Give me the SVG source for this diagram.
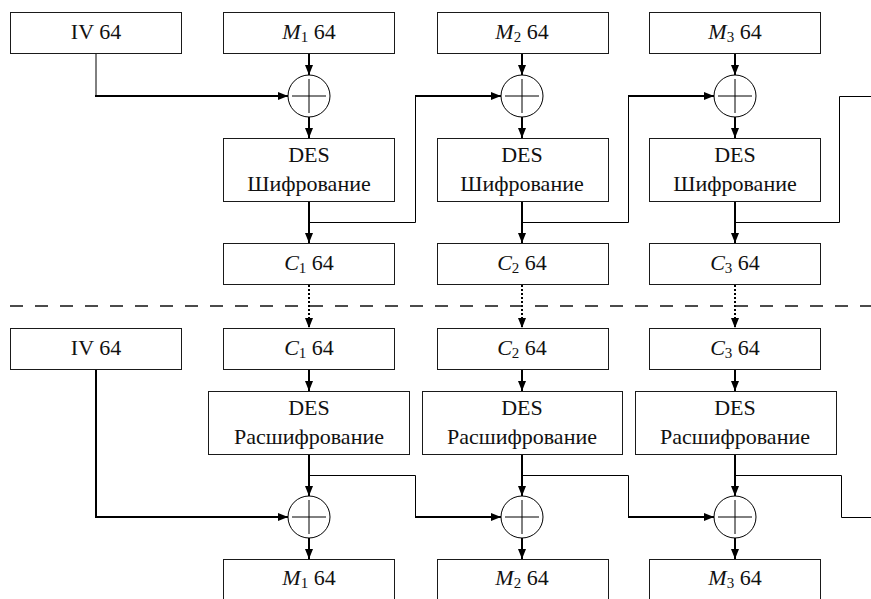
<svg xmlns="http://www.w3.org/2000/svg" width="871" height="599" viewBox="0 0 871 599">
  <style>
    .box { fill: #ffffff; stroke: #1a1a1a; stroke-width: 1; }
    .lbl { font-family: "Liberation Serif", "Times New Roman", serif; font-size: 22px; fill: #111; text-anchor: middle; }
    .it { font-style: italic; }
    .sub { font-size: 15px; }
    .thick { fill: none; stroke: #000; stroke-width: 2; }
    .thin { fill: none; stroke: #000; stroke-width: 1; }
    .dot { fill: none; stroke: #000; stroke-width: 2; stroke-dasharray: 2 2; }
    .dash { fill: none; stroke: #111; stroke-width: 1.3; stroke-dasharray: 13 12; }
    .xor circle { fill: #fff; stroke: #000; stroke-width: 1; }
    .xor path { stroke: #000; stroke-width: 1; }
  </style>
  <defs>
    <marker id="ah" markerUnits="userSpaceOnUse" markerWidth="10" markerHeight="8" refX="10" refY="4" orient="auto">
      <path d="M0,0 L10,4 L0,8 z" fill="#000"/>
    </marker>
    <g id="xorSym" class="xor">
      <circle cx="0" cy="0" r="21"/>
      <path d="M-17,0 H17 M0,-17 V17"/>
    </g>
  </defs>

  <!-- connectors -->
  <g id="connectors">
    <!-- encryption chain -->
    <path class="thin" d="M96,53 V96"/>
    <path class="thick" d="M95,96 H288" marker-end="url(#ah)"/>
    <path class="thick" d="M309,53 V75" marker-end="url(#ah)"/>
    <path class="thick" d="M522,53 V75" marker-end="url(#ah)"/>
    <path class="thick" d="M735,53 V75" marker-end="url(#ah)"/>
    <path class="thick" d="M309,117 V138" marker-end="url(#ah)"/>
    <path class="thick" d="M522,117 V138" marker-end="url(#ah)"/>
    <path class="thick" d="M735,117 V138" marker-end="url(#ah)"/>
    <path class="thick" d="M309,201 V243" marker-end="url(#ah)"/>
    <path class="thick" d="M522,201 V243" marker-end="url(#ah)"/>
    <path class="thick" d="M735,201 V243" marker-end="url(#ah)"/>
    <path class="thin" d="M309,222.5 H415.5 V96"/>
    <path class="thick" d="M415,96 H501" marker-end="url(#ah)"/>
    <path class="thin" d="M522,222.5 H628.5 V96"/>
    <path class="thick" d="M628,96 H714" marker-end="url(#ah)"/>
    <path class="thin" d="M735,222.5 H839.5 V96.5 H871"/>

    <!-- transfer of ciphertext -->
    <path class="dot" d="M309,285 V328" marker-end="url(#ah)"/>
    <path class="dot" d="M522,285 V328" marker-end="url(#ah)"/>
    <path class="dot" d="M735,285 V328" marker-end="url(#ah)"/>
    <path class="dash" d="M10,306 H871"/>

    <!-- decryption chain -->
    <path class="thick" d="M96,369 V517 H288" marker-end="url(#ah)"/>
    <path class="thick" d="M309,369 V391" marker-end="url(#ah)"/>
    <path class="thick" d="M522,369 V391" marker-end="url(#ah)"/>
    <path class="thick" d="M735,369 V391" marker-end="url(#ah)"/>
    <path class="thick" d="M309,454 V496" marker-end="url(#ah)"/>
    <path class="thick" d="M522,454 V496" marker-end="url(#ah)"/>
    <path class="thick" d="M735,454 V496" marker-end="url(#ah)"/>
    <path class="thick" d="M309,538 V559" marker-end="url(#ah)"/>
    <path class="thick" d="M522,538 V559" marker-end="url(#ah)"/>
    <path class="thick" d="M735,538 V559" marker-end="url(#ah)"/>
    <path class="thin" d="M309,475.5 H415.5 V517"/>
    <path class="thick" d="M415,517 H501" marker-end="url(#ah)"/>
    <path class="thin" d="M522,475.5 H628.5 V517"/>
    <path class="thick" d="M628,517 H714" marker-end="url(#ah)"/>
    <path class="thin" d="M735,475.5 H841.5 V517.5 H871"/>
  </g>

  <!-- encryption nodes -->
  <g id="enc-iv"><rect class="box" x="10.5" y="12.5" width="171" height="41"/><text class="lbl" x="96" y="39">IV 64</text></g>
  <g id="enc-m1"><rect class="box" x="223.5" y="12.5" width="171" height="41"/><text class="lbl" x="309" y="39"><tspan class="it">M</tspan><tspan class="sub" dy="3">1</tspan><tspan dy="-3"> 64</tspan></text></g>
  <g id="enc-m2"><rect class="box" x="437.5" y="12.5" width="171" height="41"/><text class="lbl" x="522" y="39"><tspan class="it">M</tspan><tspan class="sub" dy="3">2</tspan><tspan dy="-3"> 64</tspan></text></g>
  <g id="enc-m3"><rect class="box" x="649.5" y="12.5" width="171" height="41"/><text class="lbl" x="735" y="39"><tspan class="it">M</tspan><tspan class="sub" dy="3">3</tspan><tspan dy="-3"> 64</tspan></text></g>

  <g id="enc-xor1"><use href="#xorSym" x="309" y="96"/></g>
  <g id="enc-xor2"><use href="#xorSym" x="522" y="96"/></g>
  <g id="enc-xor3"><use href="#xorSym" x="735" y="96"/></g>

  <g id="enc-des1"><rect class="box" x="223.5" y="138.5" width="171" height="63"/><text class="lbl" x="309" y="162">DES</text><text class="lbl" x="309" y="191">Шифрование</text></g>
  <g id="enc-des2"><rect class="box" x="437.5" y="138.5" width="171" height="63"/><text class="lbl" x="522" y="162">DES</text><text class="lbl" x="522" y="191">Шифрование</text></g>
  <g id="enc-des3"><rect class="box" x="649.5" y="138.5" width="171" height="63"/><text class="lbl" x="735" y="162">DES</text><text class="lbl" x="735" y="191">Шифрование</text></g>

  <g id="enc-c1"><rect class="box" x="223.5" y="243.5" width="171" height="41"/><text class="lbl" x="309" y="270"><tspan class="it">C</tspan><tspan class="sub" dy="3">1</tspan><tspan dy="-3"> 64</tspan></text></g>
  <g id="enc-c2"><rect class="box" x="437.5" y="243.5" width="171" height="41"/><text class="lbl" x="522" y="270"><tspan class="it">C</tspan><tspan class="sub" dy="3">2</tspan><tspan dy="-3"> 64</tspan></text></g>
  <g id="enc-c3"><rect class="box" x="649.5" y="243.5" width="171" height="41"/><text class="lbl" x="735" y="270"><tspan class="it">C</tspan><tspan class="sub" dy="3">3</tspan><tspan dy="-3"> 64</tspan></text></g>

  <!-- decryption nodes -->
  <g id="dec-iv"><rect class="box" x="10.5" y="328.5" width="171" height="41"/><text class="lbl" x="96" y="355">IV 64</text></g>
  <g id="dec-c1"><rect class="box" x="223.5" y="328.5" width="171" height="41"/><text class="lbl" x="309" y="355"><tspan class="it">C</tspan><tspan class="sub" dy="3">1</tspan><tspan dy="-3"> 64</tspan></text></g>
  <g id="dec-c2"><rect class="box" x="437.5" y="328.5" width="171" height="41"/><text class="lbl" x="522" y="355"><tspan class="it">C</tspan><tspan class="sub" dy="3">2</tspan><tspan dy="-3"> 64</tspan></text></g>
  <g id="dec-c3"><rect class="box" x="649.5" y="328.5" width="171" height="41"/><text class="lbl" x="735" y="355"><tspan class="it">C</tspan><tspan class="sub" dy="3">3</tspan><tspan dy="-3"> 64</tspan></text></g>

  <g id="dec-des1"><rect class="box" x="208.5" y="391.5" width="201" height="63"/><text class="lbl" x="309" y="415">DES</text><text class="lbl" x="309" y="444">Расшифрование</text></g>
  <g id="dec-des2"><rect class="box" x="422.5" y="391.5" width="200" height="63"/><text class="lbl" x="522" y="415">DES</text><text class="lbl" x="522" y="444">Расшифрование</text></g>
  <g id="dec-des3"><rect class="box" x="635.5" y="391.5" width="201" height="63"/><text class="lbl" x="735" y="415">DES</text><text class="lbl" x="735" y="444">Расшифрование</text></g>

  <g id="dec-xor1"><use href="#xorSym" x="309" y="517"/></g>
  <g id="dec-xor2"><use href="#xorSym" x="522" y="517"/></g>
  <g id="dec-xor3"><use href="#xorSym" x="735" y="517"/></g>

  <g id="dec-m1"><rect class="box" x="223.5" y="559.5" width="171" height="45"/><text class="lbl" x="309" y="585"><tspan class="it">M</tspan><tspan class="sub" dy="3">1</tspan><tspan dy="-3"> 64</tspan></text></g>
  <g id="dec-m2"><rect class="box" x="437.5" y="559.5" width="171" height="45"/><text class="lbl" x="522" y="585"><tspan class="it">M</tspan><tspan class="sub" dy="3">2</tspan><tspan dy="-3"> 64</tspan></text></g>
  <g id="dec-m3"><rect class="box" x="649.5" y="559.5" width="171" height="45"/><text class="lbl" x="735" y="585"><tspan class="it">M</tspan><tspan class="sub" dy="3">3</tspan><tspan dy="-3"> 64</tspan></text></g>
</svg>
